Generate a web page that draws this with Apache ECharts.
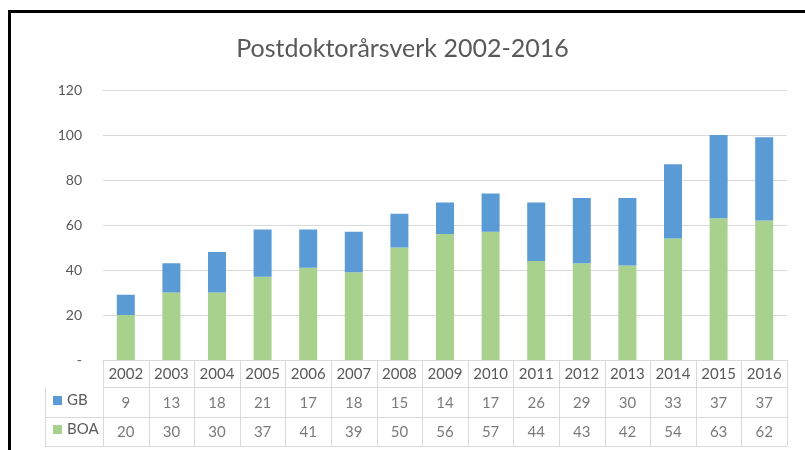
<!DOCTYPE html>
<html>
<head>
<meta charset="utf-8">
<script src="https://cdn.jsdelivr.net/npm/echarts@6/dist/echarts.min.js"></script>
<style>
html, body { margin: 0; padding: 0; background: #fff; }
#chart { width: 805px; height: 450px; }
</style>
</head>
<body>
<div id="chart"></div>
<script>
// 数据
const years = ['2002', '2003', '2004', '2005', '2006', '2007', '2008', '2009', '2010', '2011', '2012', '2013', '2014', '2015', '2016']
const gb = [9, 13, 18, 21, 17, 18, 15, 14, 17, 26, 29, 30, 33, 37, 37]
const boa = [20, 30, 30, 37, 41, 39, 50, 56, 57, 44, 43, 42, 54, 63, 62]
const yTicks = ['-', '20', '40', '60', '80', '100', '120']

const textColor = '#595959'
const lineColor = '#d9d9d9'
const font = 'Lato, "Open Sans", sans-serif'

// 表格布局
const plotLeft = 103
const plotRight = 787
const axisY = 360
const rowBottoms = [387, 417, 446]
const legendLeft = 45
const cellW = (plotRight - plotLeft) / years.length

const tableLines = []
const addLine = (x1, y1, x2, y2) => {
	tableLines.push({
		type: 'line',
		shape: { x1, y1, x2, y2 },
		style: { stroke: lineColor, lineWidth: 1 },
		silent: true,
	})
}
// 横线
rowBottoms.forEach((y, i) => {
	addLine(i === 0 ? plotLeft : legendLeft, y + 0.5, plotRight, y + 0.5)
})
// 竖线
for (let k = 0; k <= years.length; k++) {
	const x = Math.round(plotLeft + k * cellW) + 0.5
	addLine(x, axisY, x, rowBottoms[2])
}
addLine(legendLeft + 0.5, rowBottoms[0], legendLeft + 0.5, rowBottoms[2])

const tableCells = []
years.forEach((y, i) => {
	tableCells.push([y, 'GB', gb[i]])
	tableCells.push([y, 'BOA', boa[i]])
})

// 图例(每行一个)
const legendItem = (name, top) => ({
	data: [name],
	left: 48,
	top,
	icon: 'rect',
	itemWidth: 9,
	itemHeight: 9,
	itemGap: 6,
	textStyle: { color: textColor, fontSize: 15, fontFamily: font },
	selectedMode: false,
})

const chart = echarts.init(document.getElementById('chart'))
chart.setOption({
	animation: false,
	textStyle: { fontFamily: font },
	title: {
		text: 'Postdoktorårsverk 2002-2016',
		left: 'center',
		top: 31,
		textStyle: { color: textColor, fontSize: 25, fontWeight: 'normal', fontFamily: font },
	},
	legend: [legendItem('GB', 388), legendItem('BOA', 417)],
	grid: [
		{ left: plotLeft, right: 805 - plotRight, top: 90, bottom: 450 - axisY },
		{ left: plotLeft, right: 805 - plotRight, top: axisY, height: rowBottoms[2] - axisY },
	],
	xAxis: [
		{
			type: 'category',
			data: years,
			gridIndex: 0,
			axisLine: { lineStyle: { color: lineColor } },
			axisTick: { show: false },
			axisLabel: { color: textColor, fontSize: 15, margin: 7, interval: 0 },
		},
		{
			type: 'category',
			data: years,
			gridIndex: 1,
			show: false,
		},
	],
	yAxis: [
		{
			type: 'value',
			gridIndex: 0,
			min: 0,
			max: 120,
			interval: 20,
			axisLine: { show: false },
			axisTick: { show: false },
			splitLine: { lineStyle: { color: lineColor } },
			axisLabel: {
				color: textColor,
				fontSize: 14,
				margin: 21,
				formatter: (v) => yTicks[v / 20],
			},
		},
		{
			type: 'category',
			gridIndex: 1,
			data: ['year', 'GB', 'BOA'],
			inverse: true,
			show: false,
		},
	],
	series: [
		{
			name: 'BOA',
			type: 'bar',
			stack: 'total',
			data: boa,
			barWidth: 18,
			itemStyle: { color: '#a9d18e' },
		},
		{
			name: 'GB',
			type: 'bar',
			stack: 'total',
			data: gb,
			barWidth: 18,
			itemStyle: { color: '#5b9bd5' },
		},
		{
			name: 'table',
			type: 'scatter',
			xAxisIndex: 1,
			yAxisIndex: 1,
			data: tableCells,
			symbolSize: 1,
			itemStyle: { color: 'rgba(0,0,0,0)' },
			silent: true,
			label: {
				show: true,
				position: 'inside',
				color: textColor,
				fontSize: 15,
				fontFamily: font,
				formatter: (p) => String(p.value[2]),
			},
		},
	],
	graphic: [
		...tableLines,
		{
			type: 'line',
			shape: { x1: 9.5, y1: 11.5, x2: 805, y2: 11.5 },
			style: { stroke: '#000', lineWidth: 3 },
			silent: true,
		},
		{
			type: 'line',
			shape: { x1: 9.5, y1: 10, x2: 9.5, y2: 450 },
			style: { stroke: '#000', lineWidth: 3 },
			silent: true,
		},
	],
})
</script>
</body>
</html>
